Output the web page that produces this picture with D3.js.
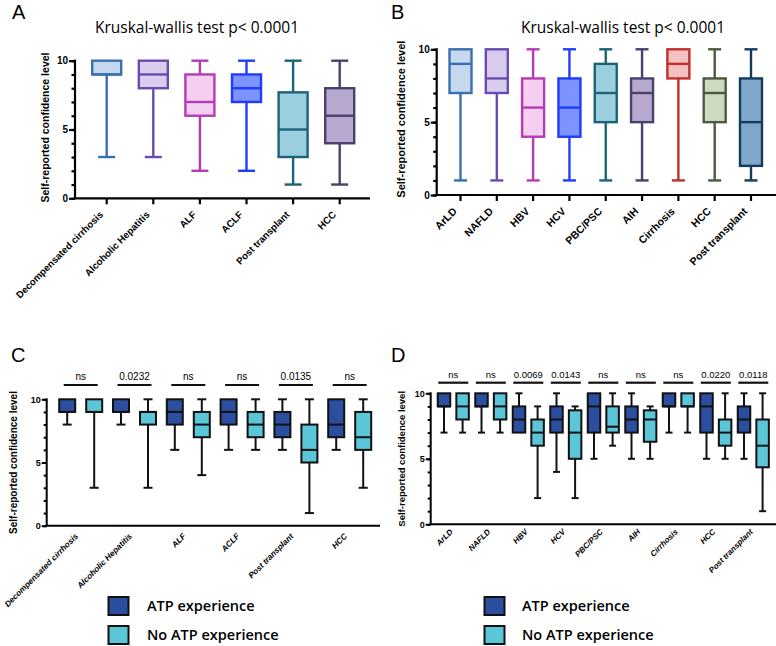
<!DOCTYPE html>
<html><head><meta charset="utf-8">
<script src="https://cdn.jsdelivr.net/npm/d3@7"></script>
<style>body{margin:0;background:#fff}svg{display:block}</style>
</head><body>
<svg id="c" width="776" height="646"></svg>
<script>
// ---------- DATA ----------
// stats: [min, q1, median, q3, max]
const catsA = ["Decompensated cirrhosis","Alcoholic Hepatitis","ALF","ACLF","Post transplant","HCC"];
const statsA = [[3,9,9,10,10],[3,8,9,10,10],[2,6,7,9,10],[2,7,8,9,10],[1,3,5,7.7,10],[1,4,6,8,10]];
const strokeA = ["#3a70ad","#6a4bb0","#b53bb5","#1f3cff","#1b6379","#4c3f6e"];
const fillA   = ["#c6d8ee","#d9cdee","#f5cff2","#7d93ff","#9ccfdd","#b6a8cf"];

const catsB = ["ArLD","NAFLD","HBV","HCV","PBC/PSC","AIH","Cirrhosis","HCC","Post transplant"];
const statsB = [[1,7,9,10,10],[1,7,8,10,10],[1,4,6,8,10],[1,4,6,8,10],[1,5,7,9,10],[1,5,7,8,10],[1,8,9,10,10],[1,5,7,8,10],[1,2,5,8,10]];
const strokeB = ["#3a70ad","#6a4bb0","#b53bb5","#1f3cff","#1b6379","#4c3f6e","#c0302e","#4b5a3e","#143b5f"];
const fillB   = ["#c6d8ee","#d9cdee","#f5cff2","#7d93ff","#9ccfdd","#b6a8cf","#f3c1c1","#cdd9c0","#80a8ca"];

const catsC = ["Decompensated cirrhosis","Alcoholic Hepatitis","ALF","ACLF","Post transplant","HCC"];
const atpC   = [[8,9,9,10,10],[8,9,9,10,10],[6,8,9,10,10],[6,8,9,10,10],[6,7,8,9,10],[6,7,8,10,10]];
const noAtpC = [[3,9,9,10,10],[3,8,9,9,10],[4,7,8,9,10],[6,7,8,9,10],[1,5,6,8,10],[3,6,7,9,10]];
const pC = ["ns","0.0232","ns","ns","0.0135","ns"];

const catsD = ["ArLD","NAFLD","HBV","HCV","PBC/PSC","AIH","Cirrhosis","HCC","Post transplant"];
const atpD   = [[7,9,9,10,10],[7,9,9,10,10],[7,7,8,9,10],[4,7,8,9,10],[5,7,9,10,10],[5,7,8,9,10],[7,9,9,10,10],[5,7,9,10,10],[5,7,8,9,10]];
const noAtpD = [[7,8,9,10,10],[7,8,9,10,10],[2,6,7,8,9],[2,5,7,8.7,9],[6,7,7.45,9,10],[5,6.3,8,8.7,9],[7,9,9,10,10],[5,6,7,8,10],[1,4.35,6,8,10]];
const pD = ["ns","ns","0.0069","0.0143","ns","ns","ns","0.0220","0.0118"];

const groupNames = ["ATP experience","No ATP experience"];
const groupColors = ["#2b4f9e","#5cc6d9"];

const yTicksMajor = [0,5,10];
const yTicksMinor = [0,1,2,3,4,5,6,7,8,9,10];
const yLabel = "Self-reported confidence level";
const title = "Kruskal-wallis test p< 0.0001";

// ---------- DRAW ----------
const svg = d3.select("#c");
const FONT = "Liberation Sans, Arial, sans-serif";

function drawAxes(g, y, xs, xPos, cfg) {
  const x0 = cfg.axisX;
  g.append("g").attr("transform",`translate(${x0},0)`)
    .call(d3.axisLeft(y).tickValues(yTicksMinor).tickSize(cfg.minorTick).tickFormat(""))
    .call(a=>a.select(".domain").remove())
    .call(a=>a.selectAll("line").attr("stroke","#000").attr("stroke-width",cfg.sw));
  g.append("g").attr("transform",`translate(${x0},0)`)
    .call(d3.axisLeft(y).tickValues(yTicksMajor).tickSize(cfg.majorTick).tickPadding(1))
    .call(a=>a.select(".domain").remove())
    .call(a=>a.selectAll("line").attr("stroke","#000").attr("stroke-width",cfg.sw))
    .call(a=>a.selectAll("text").attr("font-family",FONT).attr("font-weight","bold").attr("font-size",cfg.yTickFont).attr("fill","#000"));
  g.append("line").attr("x1",x0).attr("x2",x0).attr("y1",y(0)).attr("y2",y(10)-cfg.sw/2)
    .attr("stroke","#000").attr("stroke-width",cfg.sw);
  g.append("line").attr("x1",x0).attr("x2",cfg.axisEnd).attr("y1",y(0)).attr("y2",y(0))
    .attr("stroke","#000").attr("stroke-width",cfg.sw);
  xs.forEach((c,i)=>{
    const xc = xPos(c);
    if (cfg.xTick>0) g.append("line").attr("x1",xc).attr("x2",xc).attr("y1",y(0)).attr("y2",y(0)+cfg.xTick)
      .attr("stroke","#000").attr("stroke-width",cfg.sw);
    g.append("text").attr("transform",`translate(${xc+cfg.lblDx},${y(0)+cfg.lblDy}) rotate(-45)`)
      .attr("text-anchor","end").attr("font-family",FONT).attr("font-weight","bold")
      .attr("font-style",cfg.italic?"italic":"normal")
      .attr("font-size",cfg.xFont).text(c);
  });
  const ym = (y(0)+y(10))/2 + cfg.ylabDy;
  g.append("text").attr("transform",`translate(${cfg.ylabX},${ym}) rotate(-90)`)
    .attr("text-anchor","middle").attr("dominant-baseline","central")
    .attr("font-family",FONT).attr("font-weight","bold").attr("font-size",cfg.yLabFont).text(yLabel);
}

function drawBox(g, y, xc, s, w, cap, stroke, fill, sw) {
  const [mn,q1,md,q3,mx] = s;
  if (mx > q3) g.append("line").attr("x1",xc).attr("x2",xc).attr("y1",y(q3)).attr("y2",y(mx)).attr("stroke",stroke).attr("stroke-width",sw);
  if (mn < q1) g.append("line").attr("x1",xc).attr("x2",xc).attr("y1",y(q1)).attr("y2",y(mn)).attr("stroke",stroke).attr("stroke-width",sw);
  if (mx > q3) g.append("line").attr("x1",xc-cap/2).attr("x2",xc+cap/2).attr("y1",y(mx)).attr("y2",y(mx)).attr("stroke",stroke).attr("stroke-width",sw);
  if (mn < q1) g.append("line").attr("x1",xc-cap/2).attr("x2",xc+cap/2).attr("y1",y(mn)).attr("y2",y(mn)).attr("stroke",stroke).attr("stroke-width",sw);
  g.append("rect").attr("x",xc-w/2).attr("y",y(q3)).attr("width",w).attr("height",y(q1)-y(q3))
    .attr("fill",fill).attr("stroke",stroke).attr("stroke-width",sw);
  g.append("line").attr("x1",xc-w/2).attr("x2",xc+w/2).attr("y1",y(md)).attr("y2",y(md)).attr("stroke",stroke).attr("stroke-width",sw);
}

function panelLetter(t,x,y){
  svg.append("text").attr("x",x).attr("y",y).attr("font-family",FONT).attr("font-size",20).text(t);
}
function panelTitle(x,y){
  svg.append("text").attr("x",x).attr("y",y).attr("text-anchor","middle").attr("font-family","Open Sans, sans-serif").attr("font-size",15.5).text(title);
}

// ----- Panel A -----
{
  const g = svg.append("g");
  const y = d3.scaleLinear().domain([0,10]).range([198.3,60.7]);
  const x = d3.scalePoint().domain(catsA).range([106.7,339.7]);
  catsA.forEach((c,i)=>drawBox(g,y,x(c),statsA[i],29,17,strokeA[i],fillA[i],2.4));
  drawAxes(g,y,catsA,x,{axisX:75,axisEnd:370,sw:2.2,minorTick:3.5,majorTick:6,yTickFont:10,xTick:6,lblDx:-3,lblDy:17,xFont:9.7,italic:false,ylabX:45,ylabDy:-2,yLabFont:10.5});
  panelLetter("A",12,18.5);
  panelTitle(197,33);
}
// ----- Panel B -----
{
  const g = svg.append("g");
  const y = d3.scaleLinear().domain([0,10]).range([195,49.3]);
  const x = d3.scalePoint().domain(catsB).range([460.5,751]);
  catsB.forEach((c,i)=>drawBox(g,y,x(c),statsB[i],22,13,strokeB[i],fillB[i],2.4));
  drawAxes(g,y,catsB,x,{axisX:436.7,axisEnd:776,sw:2.2,minorTick:3.5,majorTick:6,yTickFont:10,xTick:6,lblDx:-3,lblDy:17,xFont:10.5,italic:false,ylabX:401,ylabDy:-3,yLabFont:11});
  panelLetter("B",391,18.5);
  panelTitle(623,33);
}
// ----- grouped panels -----
function grouped(cats, atp, noAtp, pv, cfg){
  const g = svg.append("g");
  const y = d3.scaleLinear().domain([0,10]).range(cfg.yr);
  const x = d3.scalePoint().domain(cats).range(cfg.xr);
  cats.forEach((c,i)=>{
    drawBox(g,y,x(c)-cfg.off,atp[i],cfg.bw,cfg.cap,"#111",groupColors[0],2);
    drawBox(g,y,x(c)+cfg.off,noAtp[i],cfg.bw,cfg.cap,"#111",groupColors[1],2);
    g.append("line").attr("x1",x(c)-cfg.sigHalf).attr("x2",x(c)+cfg.sigHalf).attr("y1",cfg.sigY).attr("y2",cfg.sigY)
      .attr("stroke","#111").attr("stroke-width",2.2);
    g.append("text").attr("x",x(c)).attr("y",cfg.sigY-5).attr("text-anchor","middle")
      .attr("font-family",FONT).attr("font-size",cfg.sigFont).text(pv[i]);
  });
  drawAxes(g,y,cats,x,cfg.ax);
}
grouped(catsC, atpC, noAtpC, pC, {yr:[525.7,399.3], xr:[80.7,349.7], off:13.5, bw:16, cap:9, sigY:385, sigHalf:17, sigFont:10,
  ax:{axisX:46.7,axisEnd:380,sw:2,minorTick:3,majorTick:5,yTickFont:9,xTick:0,lblDx:-2,lblDy:11,xFont:8.2,italic:true,ylabX:13,ylabDy:0,yLabFont:10}});
panelLetter("C",11,362);
grouped(catsD, atpD, noAtpD, pD, {yr:[524.3,393.3], xr:[453.3,753.3], off:9.3, bw:12.5, cap:7, sigY:382.7, sigHalf:15, sigFont:9.5,
  ax:{axisX:430.7,axisEnd:776,sw:2,minorTick:3,majorTick:5,yTickFont:9,xTick:0,lblDx:0,lblDy:8,xFont:8,italic:true,ylabX:401,ylabDy:0,yLabFont:9.5}});
panelLetter("D",391,362);

// ----- legends -----
function legend(x0, tx){
  groupNames.forEach((n,i)=>{
    const yy = i===0 ? 597 : 626;
    svg.append("rect").attr("x",x0).attr("y",yy).attr("width",20).attr("height",18)
      .attr("fill",groupColors[i]).attr("stroke","#111").attr("stroke-width",2);
    svg.append("text").attr("x",tx).attr("y",yy+14).attr("font-family","Open Sans, sans-serif")
      .attr("font-weight",600).attr("font-size",14.5).text(n);
  });
}
legend(108.5,147);
legend(484.5,522);
</script>
</body></html>
